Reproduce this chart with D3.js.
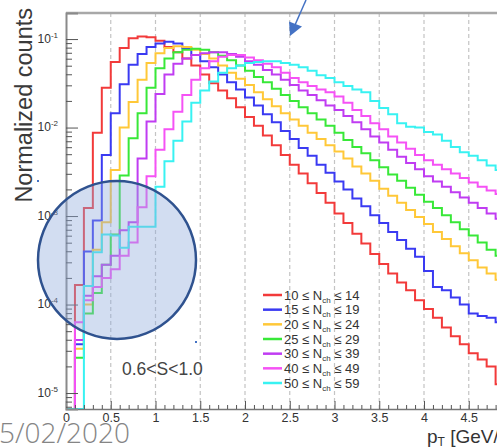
<!DOCTYPE html>
<html>
<head>
<meta charset="utf-8">
<script src="https://cdn.jsdelivr.net/npm/d3@7"></script>
<style>
body { margin: 0; background: #fff; }
svg { display: block; }
</style>
</head>
<body>
<svg id="chart" width="497" height="447"></svg>
<script>
// bin width of the pT histograms (GeV/c), bins start at 0
var binWidth = 0.1;

// normalized counts per bin
var red = [0, 1.66e-4, 1.23e-3, 8.71e-3, 2.82e-2, 5.50e-2, 7.94e-2, 1.02e-1, 1.07e-1, 1.05e-1,
  9.55e-2, 8.13e-2, 7.08e-2, 6.03e-2, 5.01e-2, 3.98e-2, 3.16e-2, 2.63e-2, 2.14e-2, 1.70e-2,
  1.32e-2, 1.05e-2, 8.13e-3, 6.31e-3, 4.90e-3, 3.80e-3, 3.02e-3, 2.34e-3, 1.82e-3, 1.41e-3,
  1.07e-3, 8.32e-4, 6.31e-4, 4.90e-4, 3.72e-4, 2.88e-4, 2.24e-4, 1.78e-4, 1.45e-4, 1.12e-4,
  8.91e-5, 7.08e-5, 5.50e-5, 4.37e-5, 3.55e-5, 2.82e-5, 2.40e-5, 2.00e-5, 1.26e-5];
var blue = [0, 3.55e-5, 3.98e-4, 8.91e-4, 4.90e-3, 1.45e-2, 3.09e-2, 5.13e-2, 6.76e-2, 8.13e-2,
  8.91e-2, 9.33e-2, 8.91e-2, 7.94e-2, 6.61e-2, 5.62e-2, 4.79e-2, 3.98e-2, 3.24e-2, 2.69e-2,
  2.19e-2, 1.78e-2, 1.41e-2, 1.15e-2, 9.12e-3, 7.41e-3, 5.89e-3, 4.79e-3, 3.80e-3, 3.09e-3,
  2.45e-3, 2.00e-3, 1.58e-3, 1.29e-3, 1.02e-3, 8.32e-4, 6.61e-4, 5.37e-4, 4.27e-4, 3.47e-4,
  2.40e-4, 1.58e-4, 1.45e-4, 1.20e-4, 1.00e-4, 7.94e-5, 7.41e-5, 7.08e-5, 6.31e-5];
var yellow = [0, 3.16e-5, 1.00e-4, 4.17e-4, 8.51e-4, 3.31e-3, 1.00e-2, 1.95e-2, 3.47e-2, 5.37e-2,
  6.92e-2, 7.94e-2, 8.32e-2, 8.13e-2, 7.59e-2, 6.76e-2, 6.03e-2, 5.01e-2, 4.17e-2, 3.55e-2,
  3.02e-2, 2.51e-2, 2.09e-2, 1.74e-2, 1.45e-2, 1.23e-2, 1.05e-2, 8.71e-3, 7.41e-3, 6.31e-3,
  5.37e-3, 4.47e-3, 3.63e-3, 3.02e-3, 2.51e-3, 2.04e-3, 1.70e-3, 1.41e-3, 1.17e-3, 9.77e-4,
  8.13e-4, 6.61e-4, 5.50e-4, 4.57e-4, 3.80e-4, 3.16e-4, 2.63e-4, 2.24e-4, 1.91e-4];
var green = [0, 2.51e-5, 7.94e-5, 1.35e-4, 2.82e-4, 6.17e-4, 2.88e-3, 7.59e-3, 1.45e-2, 2.82e-2,
  4.68e-2, 6.03e-2, 7.08e-2, 7.59e-2, 7.76e-2, 7.59e-2, 7.08e-2, 6.46e-2, 5.75e-2, 5.01e-2,
  4.37e-2, 3.72e-2, 3.24e-2, 2.75e-2, 2.34e-2, 2.00e-2, 1.70e-2, 1.45e-2, 1.23e-2, 1.05e-2,
  8.71e-3, 7.24e-3, 6.03e-3, 5.13e-3, 4.27e-3, 3.55e-3, 2.95e-3, 2.51e-3, 2.09e-3, 1.74e-3,
  1.45e-3, 1.23e-3, 1.02e-3, 8.51e-4, 7.08e-4, 6.03e-4, 5.01e-4, 4.17e-4, 3.55e-4];
var purple = [0, 3.98e-5, 1.26e-4, 2.09e-4, 2.82e-4, 3.55e-4, 6.92e-4, 8.51e-4, 4.47e-3, 1.17e-2,
  2.40e-2, 3.98e-2, 5.25e-2, 6.03e-2, 6.61e-2, 6.92e-2, 7.08e-2, 7.08e-2, 6.76e-2, 6.31e-2,
  5.62e-2, 5.13e-2, 4.47e-2, 3.98e-2, 3.47e-2, 3.02e-2, 2.63e-2, 2.34e-2, 2.04e-2, 1.78e-2,
  1.58e-2, 1.35e-2, 1.15e-2, 9.55e-3, 7.94e-3, 6.76e-3, 5.62e-3, 4.68e-3, 3.98e-3, 3.39e-3,
  2.82e-3, 2.45e-3, 2.14e-3, 1.86e-3, 1.62e-3, 1.41e-3, 1.23e-3, 1.07e-3, 9.33e-4];
var pink = [0, 6.31e-5, 1.12e-4, 1.58e-4, 2.00e-4, 2.51e-4, 3.55e-4, 5.01e-4, 1.26e-3, 2.82e-3,
  5.62e-3, 9.55e-3, 1.51e-2, 2.34e-2, 3.47e-2, 4.68e-2, 5.62e-2, 6.31e-2, 6.61e-2, 6.61e-2,
  6.17e-2, 5.75e-2, 5.25e-2, 4.79e-2, 4.17e-2, 3.63e-2, 3.24e-2, 2.95e-2, 2.69e-2, 2.51e-2,
  2.24e-2, 1.91e-2, 1.58e-2, 1.35e-2, 1.12e-2, 9.55e-3, 7.94e-3, 6.76e-3, 5.75e-3, 4.90e-3,
  4.27e-3, 3.80e-3, 3.39e-3, 3.02e-3, 2.69e-3, 2.40e-3, 2.14e-3, 1.95e-3, 1.78e-3];
var cyan = [0, 0, 1.62e-4, 3.89e-4, 6.17e-4, 6.03e-4, 4.37e-4, 7.59e-4, 7.59e-4, 7.59e-4,
  2.14e-3, 4.17e-3, 7.08e-3, 1.17e-2, 1.91e-2, 2.63e-2, 3.31e-2, 4.17e-2, 4.68e-2, 5.01e-2,
  5.37e-2, 5.50e-2, 5.62e-2, 5.62e-2, 5.37e-2, 5.13e-2, 4.79e-2, 4.37e-2, 3.89e-2, 3.63e-2,
  3.24e-2, 2.95e-2, 2.69e-2, 2.51e-2, 2.00e-2, 1.66e-2, 1.41e-2, 1.12e-2, 1.02e-2, 1.00e-2,
  8.91e-3, 8.32e-3, 7.08e-3, 6.03e-3, 5.25e-3, 4.79e-3, 4.27e-3, 3.72e-3, 3.31e-3];

// multiplicity classes for the legend
var nchLow = [10, 15, 20, 25, 30, 40, 50];
var nchHigh = [14, 19, 24, 29, 39, 49, 59];
var colors = ["#f23a3a", "#3a3af2", "#ffc838", "#38e838", "#c03cf2", "#f552f5", "#38f2f2"];

// axis ticks
var xTicks = [0, 0.5, 1, 1.5, 2, 2.5, 3, 3.5, 4, 4.5];
var xTickLabels = ["0", "0.5", "1", "1.5", "2", "2.5", "3", "3.5", "4", "4.5"];
var yDecades = [1e-1, 1e-2, 1e-3, 1e-4, 1e-5];
var yExponents = ["-1", "-2", "-3", "-4", "-5"];

var svg = d3.select("#chart");
var W = 497, H = 447;
var plotLeft = 66, plotTop = 13, plotBottom = 409;

svg.append("rect").attr("width", W).attr("height", H).attr("fill", "#fff");

var x = d3.scaleLinear().domain([0, 5]).range([plotLeft, plotLeft + 447.5]);
var y = d3.scaleLog().domain([6.6e-6, 0.197]).range([plotBottom, plotTop]);
function yv(v) { return v > 0 ? y(v) : plotBottom; }

// dashed grid
svg.append("g").selectAll("line")
  .data(xTicks.slice(1))
  .enter().append("line")
  .attr("x1", function(d) { return x(d); })
  .attr("x2", function(d) { return x(d); })
  .attr("y1", plotTop).attr("y2", plotBottom)
  .attr("stroke", "#c4c4c4")
  .attr("stroke-width", 1.2)
  .attr("stroke-dasharray", "4,3");

// top frame line
svg.append("line")
  .attr("x1", plotLeft).attr("x2", W).attr("y1", plotTop).attr("y2", plotTop)
  .attr("stroke", "#a8a8a8").attr("stroke-width", 2.5);

svg.append("clipPath").attr("id", "plotclip")
  .append("rect").attr("x", plotLeft).attr("y", plotTop)
  .attr("width", W - plotLeft).attr("height", plotBottom - plotTop);

var allSeries = [red, blue, yellow, green, purple, pink, cyan];

var step = d3.line()
  .x(function(d) { return x(d[0]); })
  .y(function(d) { return yv(d[1]); })
  .curve(d3.curveStepAfter);

var hg = svg.append("g").attr("clip-path", "url(#plotclip)");
allSeries.forEach(function(vals, k) {
  var pts = [[0, 0]];
  vals.forEach(function(v, i) { pts.push([i * binWidth, v]); });
  pts.push([vals.length * binWidth, vals[vals.length - 1]]);
  hg.append("path")
    .attr("d", step(pts))
    .attr("fill", "none")
    .attr("stroke", colors[k])
    .attr("stroke-width", 2)
    .attr("stroke-linejoin", "miter");
});

// x axis: major + minor ticks pointing up
var minorX = d3.range(0, 50).map(function(i) { return i / 10; })
  .filter(function(v) { return Math.abs(v * 2 - Math.round(v * 2)) > 1e-6; });

var xAxis = svg.append("g")
  .attr("transform", "translate(0," + plotBottom + ")")
  .call(d3.axisBottom(x).tickValues(xTicks)
    .tickFormat(function(d, i) { return xTickLabels[i]; })
    .tickSize(-8).tickPadding(4));
xAxis.select(".domain").attr("stroke", "#777").attr("stroke-width", 1.5);
xAxis.selectAll(".tick line").attr("stroke", "#555");
xAxis.selectAll("text")
  .attr("font-family", "Liberation Sans, Arial, sans-serif")
  .attr("font-size", 12.5).attr("fill", "#333");

svg.append("g")
  .attr("transform", "translate(0," + plotBottom + ")")
  .call(d3.axisBottom(x).tickValues(minorX).tickFormat("").tickSize(-4))
  .call(function(g) {
    g.select(".domain").remove();
    g.selectAll(".tick line").attr("stroke", "#555");
  });

// y axis, log, ticks inside
var minorY = [];
[1e-6, 1e-5, 1e-4, 1e-3, 1e-2, 1e-1].forEach(function(dec) {
  for (var m = 2; m <= 9; m++) {
    var v = m * dec;
    if (v >= y.domain()[0] && v <= y.domain()[1]) minorY.push(v);
  }
});

var yAxis = svg.append("g")
  .attr("transform", "translate(" + plotLeft + ",0)")
  .call(d3.axisLeft(y).tickValues(yDecades).tickFormat("").tickSize(-12).tickPadding(8));
yAxis.select(".domain").attr("stroke", "#8a8a8a").attr("stroke-width", 2);
yAxis.selectAll(".tick line").attr("stroke", "#555");
yAxis.selectAll(".tick text").each(function(d, i) {
  var t = d3.select(this)
    .attr("font-family", "Liberation Sans, Arial, sans-serif")
    .attr("fill", "#333")
    .attr("dy", "0.32em")
    .attr("text-anchor", "end");
  t.append("tspan").attr("font-size", 12).text("10");
  t.append("tspan").attr("font-size", 8).attr("dy", "-0.6em").text(yExponents[i]);
});

svg.append("g")
  .attr("transform", "translate(" + plotLeft + ",0)")
  .call(d3.axisLeft(y).tickValues(minorY).tickFormat("").tickSize(-6))
  .call(function(g) {
    g.select(".domain").remove();
    g.selectAll(".tick line").attr("stroke", "#555");
  });

// axis titles
svg.append("text")
  .attr("transform", "translate(32,8) rotate(-90)")
  .attr("text-anchor", "end")
  .attr("font-family", "Liberation Sans, Arial, sans-serif")
  .attr("font-size", 23.5)
  .attr("fill", "#3a3a3a")
  .text("Normalized counts");

var xt = svg.append("text")
  .attr("x", 427).attr("y", 443)
  .attr("font-family", "Liberation Sans, Arial, sans-serif")
  .attr("font-size", 19)
  .attr("fill", "#333");
xt.append("tspan").text("p");
xt.append("tspan").attr("font-size", 12).attr("dy", 3).text("T");
xt.append("tspan").attr("dy", -3).text(" [GeV/c]");

// legend
var ly = d3.scaleLinear().domain([0, 6]).range([295, 383]);
var lg = svg.append("g");
nchLow.forEach(function(lo, i) {
  lg.append("line")
    .attr("x1", 263).attr("x2", 282)
    .attr("y1", ly(i)).attr("y2", ly(i))
    .attr("stroke", colors[i]).attr("stroke-width", 2.5);
  var t = lg.append("text")
    .attr("x", 284).attr("y", ly(i) + 4.5)
    .attr("font-family", "Liberation Sans, Arial, sans-serif")
    .attr("font-size", 13)
    .attr("fill", "#333");
  t.append("tspan").text(lo + " \u2264 N");
  t.append("tspan").attr("font-size", 8).attr("dy", 3).text("ch");
  t.append("tspan").attr("dy", -3).text(" \u2264 " + nchHigh[i]);
});

svg.append("text")
  .attr("x", 122).attr("y", 375)
  .attr("font-family", "Liberation Sans, Arial, sans-serif")
  .attr("font-size", 17.5)
  .attr("fill", "#444")
  .text("0.6<S<1.0");

// slide annotations on top of the plot
svg.append("circle")
  .attr("cx", 117).attr("cy", 260).attr("r", 79)
  .attr("fill", "#8faadc").attr("fill-opacity", 0.4)
  .attr("stroke", "#2f528f").attr("stroke-width", 2.5);
svg.append("rect").attr("x", 37).attr("y", 180).attr("width", 2).attr("height", 2).attr("fill", "#4472c4");
svg.append("rect").attr("x", 195).attr("y", 341).attr("width", 2).attr("height", 2).attr("fill", "#4472c4");

svg.append("line")
  .attr("x1", 306).attr("y1", 0).attr("x2", 295).attr("y2", 25)
  .attr("stroke", "#4472c4").attr("stroke-width", 1.5);
svg.append("path")
  .attr("d", d3.line()([[289, 21.5], [302, 26.5], [290, 36]]) + "Z")
  .attr("fill", "#4472c4");

svg.append("text")
  .attr("x", -1).attr("y", 443)
  .attr("font-family", "Open Sans, sans-serif")
  .attr("font-weight", 300)
  .attr("font-size", 28)
  .attr("fill", "#858585")
  .text("5/02/2020");
</script>
</body>
</html>
